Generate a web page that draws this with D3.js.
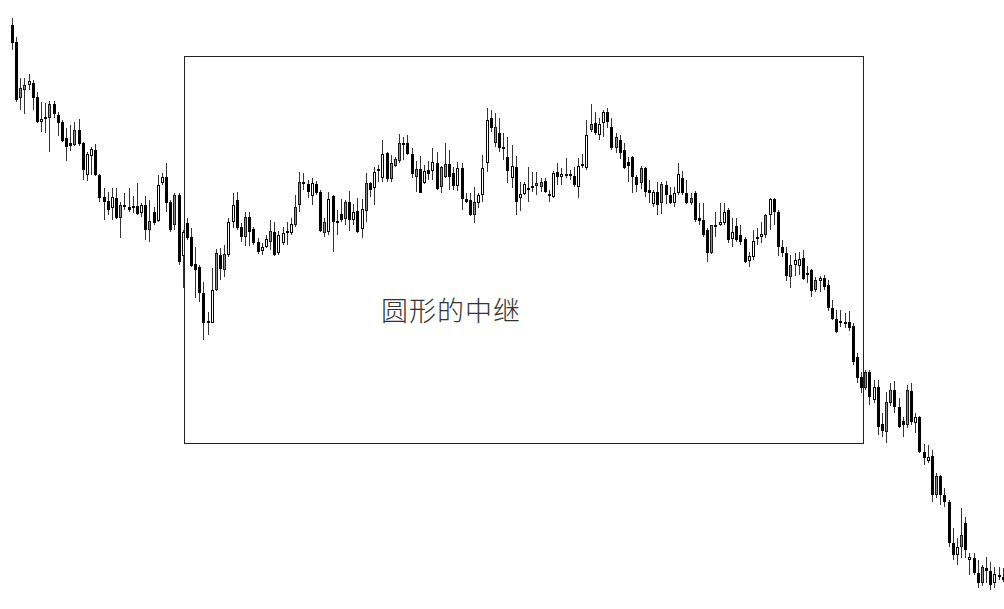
<!DOCTYPE html>
<html>
<head>
<meta charset="utf-8">
<script src="https://cdn.jsdelivr.net/npm/d3@7/dist/d3.min.js"></script>
<style>
  html, body { margin: 0; padding: 0; background: #fff; }
  svg { display: block; }
</style>
</head>
<body>
<svg id="chart" width="1004" height="609"></svg>
<script>
// Candle kinds: w = hollow, b = black, g = gray
const kinds = (
  "bbggwbbwwg" + "bbbbbgbbww" + "bbbbwbgbbb" + "bwbgbwwbbg" + "bwbbbbbbwg" +
  "bgwwbbgbbb" + "wwgbwwwwgg" + "bbwbbgwbbb" + "gbwbwgbwbw" + "bgggbbbgbw" +
  "bwbggbbwbb" + "bgwwwbgbbb" + "wbwwbwggbb" + "wbwbbbwbwg" + "bwwbbgbbbb" +
  "bgbbwbgbbw" + "wbbgbbbbgb" + "wwbwbbbwwb" + "wgwbbbbgww" + "bbbgwbbbbb" +
  "bbbbbgbwbb" + "ggbbbgbwbb" + "wbgbbbbwgb" + "wbbgbbwbb"
).split("");

const openVals = [
  575,558,512,515,515,517,503,478,481,496, 496,485,478,462,457,470,470,457,425,444,
  450,425,403,399,392,402,395,395,393,394, 394,387,395,379,388,379,417,423,398,405,
  405,344,377,363,336,333,307,279,277,347, 345,346,345,378,400,373,383,383,371,358,
  349,353,369,368,347,357,368,367,393,418, 418,416,404,416,408,378,368,404,379,386,
  398,398,380,389,371,417,417,412,431,422, 447,437,441,457,457,457,446,431,431,417,
  430,429,437,433,436,436,427,414,432,401, 400,398,397,405,437,482,473,467,453,443,
  422,433,402,406,412,412,417,418,419,406, 403,428,423,426,426,424,413,436,432,476,
  477,465,477,488,473,463,460,450,438,443, 423,432,432,410,396,408,416,415,405,397,
  407,422,407,402,407,382,380,370,375,375, 375,377,390,361,374,365,361,339,343,363,
  363,385,385,401,388,353,347,335,335,334, 342,327,330,320,319,322,315,292,281,279,
  278,278,274,243,223,228,228,200,213,176, 198,210,210,193,179,210,209,177,183,148,
  139,144,124,124,105,98,57,45,65,77, 40,42,27,33,32,29,17,25,23
];
const highVals = [
  582,563,522,522,526,520,508,498,497,499, 499,488,480,472,475,478,481,458,448,453,
  456,426,412,408,412,412,398,407,412,404, 417,397,404,400,393,425,427,437,400,407,
  407,370,382,372,353,335,318,288,332,351, 352,355,382,407,408,377,388,388,373,362,
  357,365,380,378,369,373,378,382,405,428, 427,420,422,419,410,382,408,405,390,401,
  400,409,396,402,401,427,418,433,435,460, 448,445,443,466,463,465,452,439,444,435,
  439,452,448,434,457,450,433,438,437,407, 407,413,407,445,492,490,487,482,467,463,
  455,444,418,418,433,428,428,422,422,410, 429,437,432,442,430,433,442,446,480,496,
  488,482,490,492,482,467,465,457,443,444, 425,434,433,420,410,418,418,419,413,413,
  437,429,420,407,409,397,397,372,375,388, 397,397,392,382,382,375,363,348,370,372,
  378,386,402,402,390,360,353,345,347,348, 350,334,331,323,324,325,320,300,290,290,
  287,289,277,247,228,230,230,220,220,187, 208,217,219,202,183,215,217,187,184,156,
  155,150,127,125,112,100,72,62,92,83, 47,47,40,35,43,38,33,33,32
];
const lowVals = [
  550,498,490,486,510,490,477,468,467,448, 482,464,458,439,449,454,454,420,419,425,
  424,398,380,385,380,381,362,390,388,387, 385,383,360,358,375,378,415,388,368,370,
  335,312,360,333,302,298,260,265,277,309, 320,323,343,372,370,358,354,354,355,346,
  345,352,350,344,345,355,355,365,373,388, 410,402,395,405,368,363,365,348,365,378,
  375,369,375,367,362,378,403,395,418,418, 418,418,433,437,440,445,422,408,407,416,
  420,420,410,407,422,410,410,409,390,397, 384,377,392,398,428,468,453,448,440,417,
  412,385,389,405,398,408,405,408,407,398, 402,415,415,422,420,413,402,432,430,468,
  465,460,463,472,450,447,441,431,418,407, 408,411,403,397,393,385,386,396,396,393,
  405,405,396,395,378,375,363,338,346,363, 374,375,357,353,358,355,337,333,340,355,
  357,362,370,375,344,343,319,312,324,325, 320,317,303,308,308,310,289,280,267,273,
  272,269,235,217,207,210,195,197,165,163, 157,194,187,172,163,172,175,167,147,135,
  137,98,102,95,93,53,40,35,42,42, 25,25,12,14,17,10,12,20,18
];
const closeVals = [
  557,500,502,510,519,502,478,481,483,482, 486,477,459,453,454,455,456,430,446,451,
  425,402,398,390,403,382,382,393,390,392, 386,395,370,370,377,415,423,397,370,375,
  338,368,362,334,330,307,277,277,310,310, 331,330,378,395,372,363,363,368,357,348,
  353,361,358,345,365,367,369,376,375,395, 416,408,417,407,369,367,401,378,378,380,
  381,380,388,368,391,389,410,428,429,446, 421,421,434,439,455,446,426,423,407,429,
  426,438,411,413,423,423,414,432,401,398, 385,385,405,432,480,472,457,452,451,429,
  434,398,406,416,410,414,414,413,408,404, 427,423,426,424,424,415,434,434,465,470,
  467,476,488,478,452,452,447,432,434,423, 415,417,408,407,408,395,397,405,397,407,
  426,407,397,397,380,379,365,347,347,373, 378,388,360,368,360,358,338,344,359,362,
  366,365,401,388,353,347,324,323,340,341, 321,326,309,310,322,313,292,281,268,277,
  277,272,238,222,212,212,203,213,173,169, 168,197,193,173,175,175,178,183,148,142,
  143,105,105,105,98,57,45,53,53,50, 43,27,17,17,29,15,26,23,20
];

const annotationText = "圆形的中继";

const candles = openVals.map((o, i) => ({
  i, o, h: highVals[i], l: lowVals[i], c: closeVals[i], k: kinds[i]
}));

const svg = d3.select("#chart");

const x = d3.scaleLinear().domain([0, candles.length - 1]).range([12, 1002.7]);
const y = d3.scaleLinear().domain([0, 600]).range([600, 0]);

const fills = { w: "#ffffff", b: "#000000", g: "#8c8c8c" };
const strokes = { w: "#000000", b: "#000000", g: "#1a1a1a" };

const g = svg.append("g");

// wicks
g.selectAll("line.wick").data(candles).join("line")
  .attr("class", "wick")
  .attr("x1", d => Math.round(x(d.i)) + 0.5)
  .attr("x2", d => Math.round(x(d.i)) + 0.5)
  .attr("y1", d => Math.round(y(d.h)))
  .attr("y2", d => Math.round(y(d.l)))
  .attr("stroke", "#333")
  .attr("stroke-width", 1)
  .attr("shape-rendering", "crispEdges");

// bodies
g.selectAll("rect.body").data(candles).join("rect")
  .attr("class", "body")
  .attr("x", d => Math.round(x(d.i)) - 0.5)
  .attr("width", 2)
  .attr("y", d => Math.round(y(Math.max(d.o, d.c))) + 0.5)
  .attr("height", d => Math.max(1, Math.round(Math.abs(y(d.o) - y(d.c))) - 1))
  .attr("fill", d => fills[d.k])
  .attr("stroke", d => strokes[d.k])
  .attr("stroke-width", 1)
  .attr("shape-rendering", "crispEdges");

// frame around the rounded continuation zone (between candles 42/43 and 205/206)
const frameLeft = Math.floor((x(41) + x(42)) / 2);
const frameRight = Math.floor((x(204) + x(205)) / 2);
const frameTop = Math.round(y(544));
const frameBottom = Math.round(y(157));
svg.append("rect")
  .attr("x", frameLeft + 0.5)
  .attr("y", frameTop + 0.5)
  .attr("width", frameRight - frameLeft)
  .attr("height", frameBottom - frameTop)
  .attr("fill", "none")
  .attr("stroke", "#222")
  .attr("stroke-width", 1)
  .attr("shape-rendering", "crispEdges");

svg.append("text")
  .attr("x", 381)
  .attr("y", 321)
  .attr("font-family", "'Noto Sans CJK SC', 'Noto Sans CJK JP', sans-serif")
  .attr("font-size", 27)
  .attr("font-weight", 300)
  .attr("letter-spacing", 1)
  .attr("fill", "#333")
  .text(annotationText);
</script>
</body>
</html>
